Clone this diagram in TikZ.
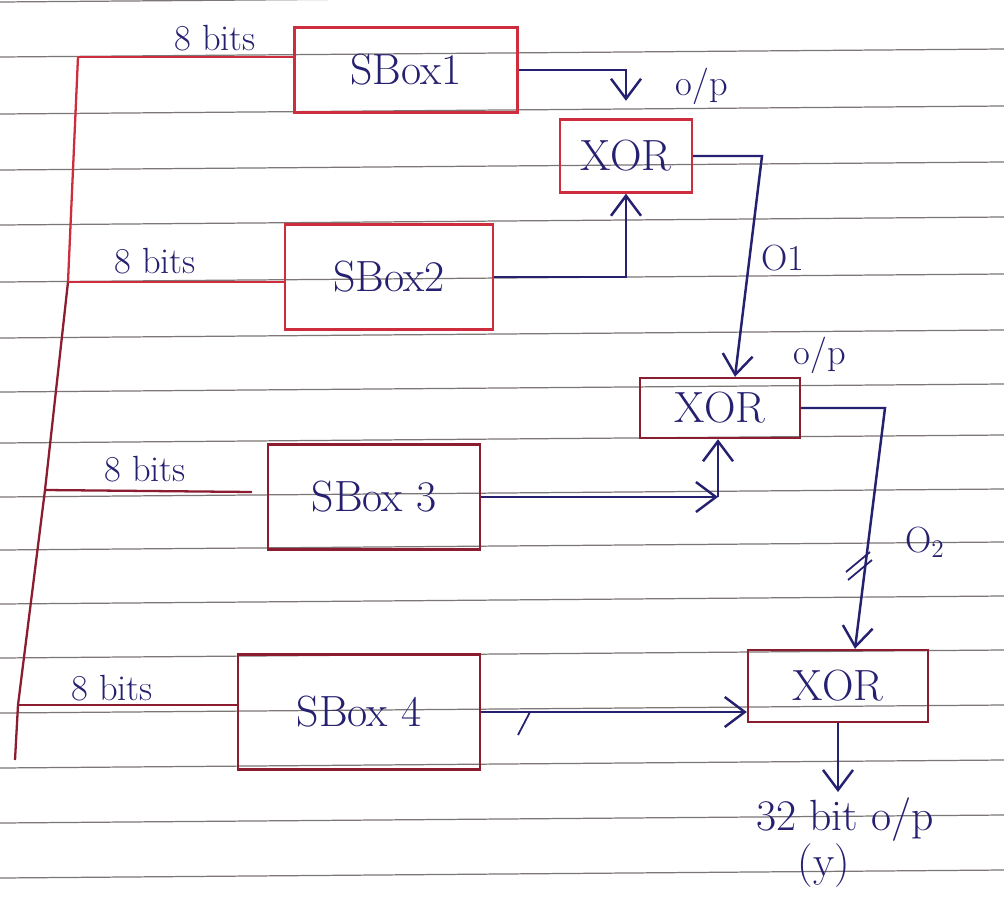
\documentclass[tikz,border=0pt]{standalone}
\usepackage{tikz}
\usetikzlibrary{arrows.meta}
\definecolor{ink}{RGB}{38,32,112}
\definecolor{redpen}{RGB}{205,45,60}
\definecolor{darkpen}{RGB}{140,28,48}
\definecolor{ruling}{RGB}{125,118,118}
\tikzset{
	box/.style={draw=#1, line width=1.4pt, text=ink, font=\Huge},
	wire/.style={draw=ink, line width=1.4pt},
	feed/.style={draw=#1, line width=1.3pt},
	barb/.style={-{Straight Barb[length=4mm,width=6mm]}},
	lbl/.style={text=ink, font=\huge}
}

\begin{document}
\begin{tikzpicture}[x=0.02cm,y=-0.02cm]
	\useasboundingbox (0,0) rectangle (1004,913);
	\fill[white] (0,0) rectangle (1004,913);
	\foreach \y in {2,57,114,170,225,282,338,392,443,497,550,604,658,713,768,823,878}
		\draw[ruling, line width=0.7pt] (0,\y) -- (1004,\y-8);
%
	\node[box=redpen, minimum width=4.46cm, minimum height=1.7cm] (sb1) at (406,70) {SBox1};
	\node[box=redpen, minimum width=4.16cm, minimum height=2.1cm] (sb2) at (389,277) {SBox2};
	\node[box=darkpen, minimum width=4.24cm, minimum height=2.1cm] (sb3) at (374,497) {SBox 3};
	\node[box=darkpen, minimum width=4.84cm, minimum height=2.3cm] (sb4) at (359,712) {SBox 4};
%
	\node[box=redpen, minimum width=2.64cm, minimum height=1.46cm] (x1) at (626,156) {XOR};
	\node[box=darkpen, minimum width=3.2cm, minimum height=1.2cm] (x2) at (720,408) {XOR};
	\node[box=darkpen, minimum width=3.6cm, minimum height=1.44cm] (x3) at (838,686) {XOR};
%
	\coordinate (in1) at (78,57);
	\coordinate (in2) at (68,282);
	\coordinate (in3) at (45,490);
	\coordinate (in4) at (18,705);
	\coordinate (busend) at (15,760);
	\coordinate (in3end) at (252,492);
	\draw[feed=redpen] (in1) -- (in2);
	\draw[feed=darkpen] (in2) -- (in3) -- (in4) -- (busend);
	\draw[feed=redpen] (in1) -- (in1 -| sb1.west);
		\node[lbl, anchor=south] at (215,57) {8 bits};
	\draw[feed=redpen] (in2) -- (in2 -| sb2.west);
		\node[lbl, anchor=south] at (155,280) {8 bits};
	\draw[feed=darkpen] (in3) -- (in3end);
		\node[lbl, anchor=south] at (145,488) {8 bits};
	\draw[feed=darkpen] (in4) -- (in4 -| sb4.west);
		\node[lbl, anchor=south] at (112,707) {8 bits};
%
	\draw[wire, barb, shorten >=0.35cm] (sb1.east) -| (x1.north);
		\node[lbl] at (702,86) {o/p};
	\draw[wire, barb] (sb2.east) -| (x1.south);
	\coordinate (o1turn) at (762,156);
	\draw[wire, barb] (x1.east) -- (o1turn) -- ([xshift=0.3cm]x2.north);
		\node[lbl] at (783,258) {O1};
		\node[lbl] at (820,355) {o/p};
	\coordinate (s3turn) at (718,497);
	\draw[wire, barb] (sb3.east) -- (s3turn);
	\draw[wire, barb] (s3turn) -- (s3turn |- x2.south);
	\coordinate (o2turn) at (885,408);
	\draw[wire, barb] (x2.east) -- (o2turn) -- ([xshift=0.34cm]x3.north);
		\draw[wire, line width=1pt] (848,580) -- (872,560) (846,572) -- (870,552);
		\node[lbl] at (925,542) {O$_2$};
	\draw[wire, barb] (sb4.east) -- (sb4.east -| x3.west);
		\draw[wire, line width=1pt] (518,735) -- (530,712);
%
	\node[lbl, font=\Huge, anchor=north] (out) at (845,792) {32 bit o/p};
	\node[lbl, font=\Huge, anchor=north] (y) at (824,838) {(y)};
	\draw[wire, barb] (x3.south) -- (x3.south |- out.north);
\end{tikzpicture}
\end{document}
